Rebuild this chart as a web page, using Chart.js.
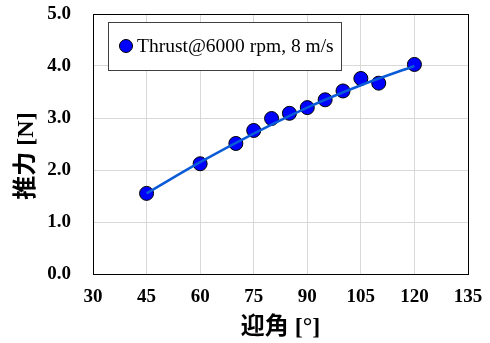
<!DOCTYPE html>
<html>
<head>
<meta charset="utf-8">
<script src="https://cdn.jsdelivr.net/npm/chart.js@4.4.1/dist/chart.umd.min.js"></script>
<style>
  html, body { margin: 0; padding: 0; background: #fff; }
  #wrap { width: 490px; height: 343px; }
</style>
</head>
<body>
<div id="wrap"><canvas id="myChart" width="490" height="343"></canvas></div>
<script>
// measured points
const angles = [45, 60, 70, 75, 80, 85, 90, 95, 100, 105, 110, 120];
const thrust = [1.55, 2.12, 2.51, 2.76, 2.99, 3.09, 3.20, 3.35, 3.52, 3.76, 3.67, 4.03];
// trend line
const trendAngles = [45, 60, 75, 90, 105, 120];
const trendThrust = [1.55, 2.15, 2.70, 3.20, 3.63, 4.00];
const seriesName = 'Thrust@6000 rpm, 8 m/s';
const xTitle = '迎角 [°]';
const yTitle = '推力 [N]';

const tickFont = { family: "'Liberation Serif', 'Times New Roman', serif", size: 19, weight: 'bold' };
const titleFont = { family: "'Liberation Serif', 'Noto Sans CJK JP', sans-serif", size: 24, weight: 'bold' };

// legend box drawn inside the plot area
const boxLegend = {
    id: 'boxLegend',
    afterDatasetsDraw(chart) {
        const ctx = chart.ctx;
        const a = chart.chartArea;
        const x = a.left + 15, y = a.top + 8, w = 233, h = 48;
        ctx.save();
        ctx.fillStyle = '#fff';
        ctx.fillRect(x, y, w, h);
        ctx.strokeStyle = '#404040';
        ctx.lineWidth = 1;
        ctx.strokeRect(x + 0.5, y + 0.5, w, h);
        ctx.beginPath();
        ctx.arc(x + 18, y + 24, 6.5, 0, Math.PI * 2);
        ctx.fillStyle = '#0000FF';
        ctx.fill();
        ctx.strokeStyle = '#000';
        ctx.stroke();
        ctx.fillStyle = '#000';
        ctx.font = "19.5px 'Liberation Serif', 'Times New Roman', serif";
        ctx.textBaseline = 'middle';
        ctx.fillText(seriesName, x + 29, y + 25);
        ctx.restore();
    }
};

const frame = {
    id: 'frame',
    afterDraw(chart) {
        const a = chart.chartArea;
        const ctx = chart.ctx;
        ctx.save();
        ctx.strokeStyle = '#000';
        ctx.lineWidth = 1;
        ctx.strokeRect(Math.round(a.left) + 0.5, Math.round(a.top) + 0.5,
            Math.round(a.right - a.left), Math.round(a.bottom - a.top));
        ctx.restore();
    }
};

let myChart = document.getElementById('myChart').getContext('2d');
let thrustChart = new Chart(myChart, {
    type: 'scatter',
    data: {
        datasets: [{
            label: 'trend',
            data: trendAngles.map((a, i) => ({ x: a, y: trendThrust[i] })),
            showLine: true,
            borderColor: '#0A5BD6',
            borderWidth: 2.5,
            pointRadius: 0,
            tension: 0.4,
            cubicInterpolationMode: 'monotone',
            order: 0,
        }, {
            label: seriesName,
            data: angles.map((a, i) => ({ x: a, y: thrust[i] })),
            backgroundColor: '#0000FF',
            borderColor: '#000',
            borderWidth: 1,
            pointRadius: 7,
            order: 1,
        }]
    },
    options: {
        responsive: false,
        animation: false,
        layout: { padding: { top: 14, right: 22, left: 0, bottom: 0 } },
        plugins: {
            legend: { display: false },
            tooltip: { enabled: false },
        },
        scales: {
            x: {
                type: 'linear',
                min: 30,
                max: 135,
                ticks: { stepSize: 15, color: '#000', font: tickFont, padding: 2 },
                grid: { color: '#d9d9d9', drawTicks: true, tickLength: 10, tickColor: 'rgba(0,0,0,0)' },
                border: { display: false },
                title: { display: true, text: xTitle, color: '#000', font: titleFont, padding: { top: 0, bottom: 1 } },
                afterFit(s) { s.height = 69; }
            },
            y: {
                type: 'linear',
                min: 0,
                max: 5,
                ticks: { stepSize: 1, color: '#000', font: tickFont, padding: 2,
                    callback: v => v.toFixed(1) },
                grid: { color: '#d9d9d9', drawTicks: true, tickLength: 20, tickColor: 'rgba(0,0,0,0)' },
                border: { display: false },
                // trailing spaces push the title a little below the axis middle
                title: { display: true, text: yTitle + '    ', color: '#000', font: titleFont, padding: { top: 12, bottom: 0 } },
                afterFit(s) { s.width = 93; }
            }
        }
    },
    plugins: [boxLegend, frame]
});
</script>
</body>
</html>
